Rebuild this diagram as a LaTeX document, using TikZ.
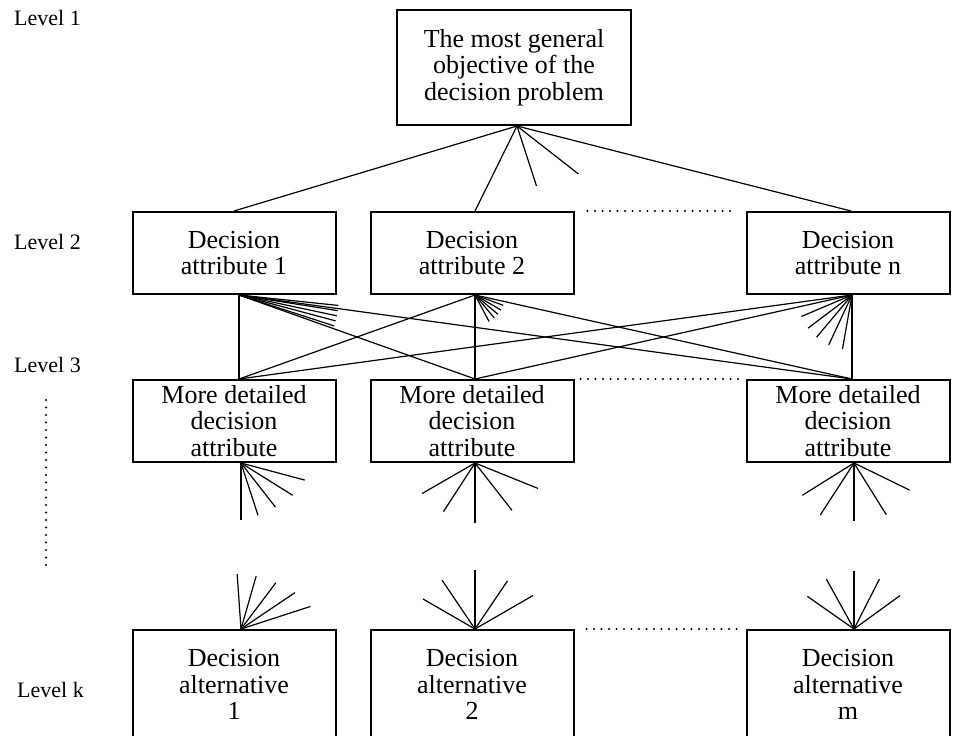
\documentclass[tikz,border=0pt]{standalone}
\usepackage{fontspec}
\setmainfont{Liberation Serif}
\usepackage{xcolor}
\usepackage{tikz}
\usetikzlibrary{shapes,arrows,positioning}
\tikzstyle{block} = [draw,rectangle,line width=2pt,align=center,inner sep=2pt,font=\fontsize{26}{26.5}\selectfont]
\tikzstyle{link} = [line width=1.2pt]
\tikzstyle{dotrule} = [line width=2.4pt,line cap=round,dash pattern=on 0pt off 7.5pt]
\tikzstyle{lvllabel} = [anchor=west,inner sep=2pt,font=\fontsize{22}{24}\selectfont]

\begin{document}
\begin{tikzpicture}[x=1pt,y=-1pt]
        \useasboundingbox (0,0) rectangle (953,736);

        % Define nodes
        \node[block,
        minimum width=234pt,
        minimum height=115pt] (goal) at (514,67.5) {The most general\\objective of the\\decision problem};

        \node[block,
        below=85pt of goal,
        xshift=-42pt,
        minimum width=203pt,
        minimum height=82pt] (attr2) {Decision\\attribute 2};

        \node[block,
        left=33pt of attr2,
        minimum width=203pt,
        minimum height=82pt] (attr1) {Decision\\attribute 1};

        \node[block,
        right=171pt of attr2,
        minimum width=203pt,
        minimum height=82pt] (attrn) {Decision\\attribute n};

        \node[block,
        below=84pt of attr1,
        minimum width=203pt,
        minimum height=82pt] (detail1) {More detailed\\decision\\attribute};

        \node[block,
        below=84pt of attr2,
        minimum width=203pt,
        minimum height=82pt] (detail2) {More detailed\\decision\\attribute};

        \node[block,
        below=84pt of attrn,
        minimum width=203pt,
        minimum height=82pt] (detailn) {More detailed\\decision\\attribute};

        \node[block,
        below=166pt of detail1,
        minimum width=203pt,
        minimum height=109pt] (alt1) {Decision\\alternative\\1};

        \node[block,
        below=166pt of detail2,
        minimum width=203pt,
        minimum height=109pt] (alt2) {Decision\\alternative\\2};

        \node[block,
        below=166pt of detailn,
        minimum width=203pt,
        minimum height=109pt] (altm) {Decision\\alternative\\m};

        % Level names
        \node[lvllabel] (lvl1) at (12,18) {Level 1};
        \node[lvllabel] (lvl2) at (12,242) {Level 2};
        \node[lvllabel] (lvl3) at (12,365) {Level 3};
        \node[lvllabel] (lvlk) at (15,690) {Level k};
        \coordinate (gaptop) at (46,400);
        \coordinate (gapbot) at (46,570);
        \draw [dotrule] (gaptop) -- (gapbot);

        % Level 1 to level 2
        \draw [link] ([xshift=3pt]goal.south) -- (attr1.north);
        \draw [link] ([xshift=3pt]goal.south) -- ([xshift=3pt]attr2.north);
        \draw [link] ([xshift=3pt]goal.south) -- ([xshift=3pt]attrn.north);
        \foreach \a/\r in {72/63,38/78}
            \draw [link] ([xshift=3pt]goal.south) -- ++(\a:\r);

        % Level 2 to level 3
        \draw [link] ([xshift=5pt]attr1.south) -- ([xshift=5pt]detail1.north);
        \draw [link] ([xshift=5pt]attr1.south) -- ([xshift=3pt]detail2.north);
        \draw [link] ([xshift=5pt]attr1.south) -- ([xshift=4pt]detailn.north);
        \draw [link] ([xshift=3pt]attr2.south) -- ([xshift=5pt]detail1.north);
        \draw [link] ([xshift=3pt]attr2.south) -- ([xshift=3pt]detail2.north);
        \draw [link] ([xshift=3pt]attr2.south) -- ([xshift=4pt]detailn.north);
        \draw [link] ([xshift=4pt]attrn.south) -- ([xshift=5pt]detail1.north);
        \draw [link] ([xshift=4pt]attrn.south) -- ([xshift=3pt]detail2.north);
        \draw [link] ([xshift=4pt]attrn.south) -- ([xshift=4pt]detailn.north);
        \foreach \a in {6,9,12,15,18}
            \draw [link] ([xshift=5pt]attr1.south) -- ++(\a:100);
        \foreach \a in {20,30,40,50,62}
            \draw [link] ([xshift=3pt]attr2.south) -- ++(\a:30);
        \foreach \a in {100,115,130,143,157}
            \draw [link] ([xshift=4pt]attrn.south) -- ++(\a:55);

        % Open fans below level 3
        \foreach \a/\r in {90/57,72/55,52/56,32/61,15/66}
            \draw [link] ([xshift=7pt]detail1.south) -- ++(\a:\r);
        \foreach \a/\r in {150/61,123/58,90/60,52/60,22/68}
            \draw [link] ([xshift=3pt]detail2.south) -- ++(\a:\r);
        \foreach \a/\r in {148/61,123/62,90/58,58/61,26/62}
            \draw [link] ([xshift=6pt]detailn.south) -- ++(\a:\r);

        % Open fans above level k
        \foreach \a/\r in {-94/55,-74/55,-53/58,-34/65,-18/73}
            \draw [link] ([xshift=7pt]alt1.north) -- ++(\a:\r);
        \foreach \a/\r in {-150/60,-124/59,-90/59,-56/58,-30/67}
            \draw [link] ([xshift=3pt]alt2.north) -- ++(\a:\r);
        \foreach \a/\r in {-145/57,-119/57,-90/58,-63/56,-36/57}
            \draw [link] ([xshift=6pt]altm.north) -- ++(\a:\r);

        % Gaps between columns
        \draw [dotrule] ([xshift=13pt]attr2.north east) -- ([xshift=-9pt]attrn.north west);
        \draw [dotrule] ([xshift=6pt]detail2.north east) -- ([xshift=-5pt]detailn.north west);
        \draw [dotrule] ([xshift=12pt]alt2.north east) -- ([xshift=-5pt]altm.north west);

\end{tikzpicture}
\end{document}
